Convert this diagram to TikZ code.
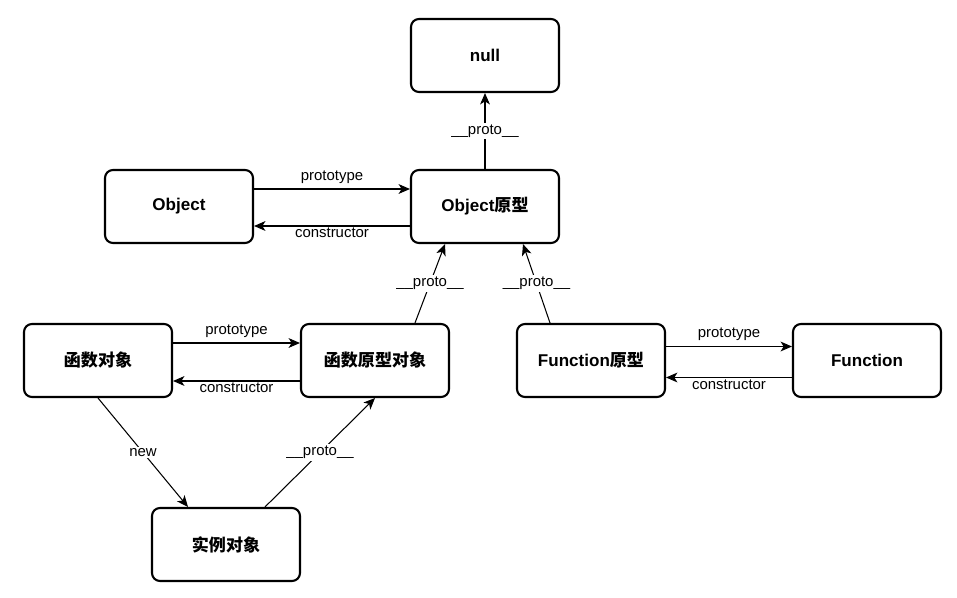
\documentclass[tikz,border=0pt]{standalone}
\usepackage{fontspec}
\setmainfont{Liberation Sans}
\newfontfamily\cjk{Noto Sans CJK SC}
\usetikzlibrary{arrows.meta}
\tikzset{
  box/.style={draw, line width=1.2pt, rounded corners=4.5pt,
    minimum width=2.96cm, minimum height=1.46cm,
    font=\fontsize{9.7}{12}\selectfont\bfseries},
  link/.style={-{Stealth[length=6.5pt,width=5.6pt,inset=1.8pt]}, line width=0.6pt},
  lbl/.style={font=\fontsize{8.5}{10}\selectfont, fill=white, inner sep=1pt},
}
\begin{document}
\begin{tikzpicture}[x=0.02cm,y=-0.02cm]
  \useasboundingbox[fill=white] (0,0) rectangle (957,598);

  % Draw the boxes
  \node[box] (null) at (485,55.5) {null};
  \node[box] (obj) at (179,206.5) {Object};
  \node[box] (objp) at (485,206.5) {Object{\cjk 原型}};
  \node[box] (fn) at (98,360.5) {{\cjk 函数对象}};
  \node[box] (fnp) at (375,360.5) {{\cjk 函数原型对象}};
  \node[box] (Fp) at (591,360.5) {Function{\cjk 原型}};
  \node[box] (F) at (867,360.5) {Function};
  \node[box] (inst) at (226,544.5) {{\cjk 实例对象}};

  % Object and its prototype
  \draw[link] ([yshift=0.35cm]obj.east) -- node[lbl, above=2pt, fill=none] {prototype} ([yshift=0.35cm]objp.west);
  \draw[link] ([yshift=-0.39cm]objp.west) -- node[lbl, below, fill=none] {constructor} ([yshift=-0.39cm]obj.east);
  \draw[link] (objp.north) -- node[lbl] {\_\_proto\_\_} (null.south);

  % function object and its prototype
  \draw[link] ([yshift=0.35cm]fn.east) -- node[lbl, above=2pt, fill=none] {prototype} ([yshift=0.35cm]fnp.west);
  \draw[link] ([yshift=-0.41cm]fnp.west) -- node[lbl, below, fill=none] {constructor} ([yshift=-0.41cm]fn.east);
  \draw[link] ([xshift=0.8cm]fnp.north) -- node[lbl] {\_\_proto\_\_} ([xshift=-0.8cm]objp.south);

  % Function and its prototype
  \draw[link] ([yshift=0.28cm]Fp.east) -- node[lbl, above=2pt, fill=none] {prototype} ([yshift=0.28cm]F.west);
  \draw[link] ([yshift=-0.34cm]F.west) -- node[lbl, below, fill=none] {constructor} ([yshift=-0.34cm]Fp.east);
  \draw[link] ([xshift=-0.82cm]Fp.north) -- node[lbl] {\_\_proto\_\_} ([xshift=0.76cm]objp.south);

  % instance
  \draw[link] (fn.south) -- node[lbl] {new} ([xshift=-0.76cm]inst.north);
  \draw[link] ([xshift=0.78cm]inst.north) -- node[lbl] {\_\_proto\_\_} (fnp.south);
\end{tikzpicture}
\end{document}
